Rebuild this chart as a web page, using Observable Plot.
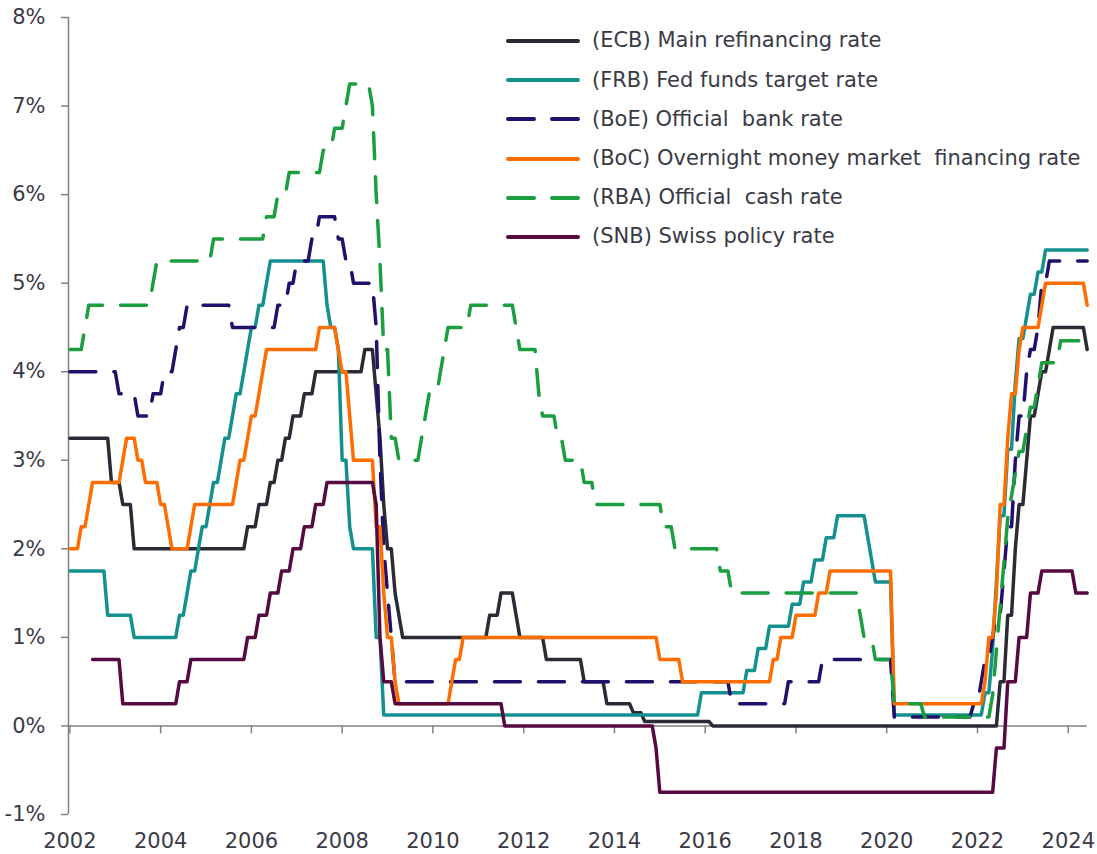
<!DOCTYPE html>
<html><head><meta charset="utf-8">
<script src="https://cdn.jsdelivr.net/npm/d3@7"></script>
<script src="https://cdn.jsdelivr.net/npm/@observablehq/plot@0.6"></script>
<style>
body{margin:0;background:#fff;}
#wrap{position:relative;width:1097px;height:854px;font-family:"DejaVu Sans",sans-serif;}
#legend{position:absolute;left:506px;top:21.4px;}
.row{display:flex;align-items:center;height:39.2px;}
.row svg{width:74px;height:8px;margin-right:12px;flex:none}
.row span{font-size:21px;color:#3a3a46;white-space:pre;line-height:1}
</style></head><body><div id="wrap"><div id="legend"></div></div>
<script>
// ---- series metadata ----
const seriesCodes = ["ECB","FRB","BoE","BoC","RBA","SNB"];
const seriesLabels = ["Main refinancing rate","Fed funds target rate","Official  bank rate","Overnight money market  financing rate","Official  cash rate","Swiss policy rate"];
const seriesColors = ["#2b2b36","#14918f","#22106d","#ff6d00","#1a9e3f","#560a42"];
const seriesDashed = [false,false,true,false,true,false];

// ---- data: month of change and new rate (%) ----
const ecbDates = ["2002-01","2002-12","2003-03","2003-06","2005-12","2006-03","2006-06","2006-08","2006-10","2006-12","2007-03","2007-06","2008-07","2008-10","2008-11","2008-12","2009-01","2009-03","2009-04","2009-05","2011-04","2011-07","2011-11","2011-12","2012-07","2013-05","2013-11","2014-06","2014-09","2016-03","2022-07","2022-09","2022-11","2022-12","2023-02","2023-03","2023-05","2023-06","2023-08","2023-09","2024-06"];
const ecbRates = [3.25,2.75,2.5,2.0,2.25,2.5,2.75,3.0,3.25,3.5,3.75,4.0,4.25,3.75,3.25,2.5,2.0,1.5,1.25,1.0,1.25,1.5,1.25,1.0,0.75,0.5,0.25,0.15,0.05,0.0,0.5,1.25,2.0,2.5,3.0,3.5,3.75,4.0,4.25,4.5,4.25];

const frbDates = ["2002-01","2002-11","2003-06","2004-06","2004-08","2004-09","2004-11","2004-12","2005-02","2005-03","2005-05","2005-06","2005-08","2005-09","2005-11","2005-12","2006-01","2006-03","2006-05","2006-06","2007-09","2007-10","2007-12","2008-01","2008-03","2008-04","2008-10","2008-12","2015-12","2016-12","2017-03","2017-06","2017-12","2018-03","2018-06","2018-09","2018-12","2019-08","2019-09","2019-10","2020-03","2022-03","2022-05","2022-06","2022-07","2022-09","2022-11","2022-12","2023-02","2023-03","2023-05","2023-07"];
const frbRates = [1.75,1.25,1.0,1.25,1.5,1.75,2.0,2.25,2.5,2.75,3.0,3.25,3.5,3.75,4.0,4.25,4.5,4.75,5.0,5.25,4.75,4.5,4.25,3.0,2.25,2.0,1.0,0.125,0.375,0.625,0.875,1.125,1.375,1.625,1.875,2.125,2.375,2.125,1.875,1.625,0.125,0.375,0.875,1.625,2.375,3.125,3.875,4.375,4.625,4.875,5.125,5.375];

const boeDates = ["2002-01","2003-02","2003-07","2003-11","2004-02","2004-05","2004-06","2004-08","2005-08","2006-08","2006-11","2007-01","2007-05","2007-07","2007-12","2008-02","2008-04","2008-10","2008-11","2008-12","2009-01","2009-02","2009-03","2016-08","2017-11","2018-08","2020-03","2021-12","2022-02","2022-03","2022-05","2022-06","2022-08","2022-09","2022-11","2022-12","2023-02","2023-03","2023-05","2023-06","2023-08"];
const boeRates = [4.0,3.75,3.5,3.75,4.0,4.25,4.5,4.75,4.5,4.75,5.0,5.25,5.5,5.75,5.5,5.25,5.0,4.5,3.0,2.0,1.5,1.0,0.5,0.25,0.5,0.75,0.1,0.25,0.5,0.75,1.0,1.25,1.75,2.25,3.0,3.5,4.0,4.25,4.5,5.0,5.25];

const bocDates = ["2002-01","2002-04","2002-06","2002-07","2003-03","2003-04","2003-07","2003-09","2004-01","2004-03","2004-04","2004-09","2004-10","2005-09","2005-10","2005-12","2006-01","2006-03","2006-04","2006-05","2007-07","2007-12","2008-01","2008-03","2008-04","2008-10","2008-12","2009-01","2009-03","2009-04","2010-06","2010-07","2010-09","2015-01","2015-07","2017-07","2017-09","2018-01","2018-07","2018-10","2020-03","2022-03","2022-04","2022-06","2022-07","2022-09","2022-10","2022-12","2023-01","2023-06","2023-07","2024-06"];
const bocRates = [2.0,2.25,2.5,2.75,3.0,3.25,3.0,2.75,2.5,2.25,2.0,2.25,2.5,2.75,3.0,3.25,3.5,3.75,4.0,4.25,4.5,4.25,4.0,3.5,3.0,2.25,1.5,1.0,0.5,0.25,0.5,0.75,1.0,0.75,0.5,0.75,1.0,1.25,1.5,1.75,0.25,0.5,1.0,1.5,2.5,3.25,3.75,4.25,4.5,4.75,5.0,4.75];

const rbaDates = ["2002-01","2002-05","2002-06","2003-11","2003-12","2005-03","2006-05","2006-08","2006-11","2007-08","2007-11","2008-02","2008-03","2008-09","2008-10","2008-11","2008-12","2009-02","2009-04","2009-10","2009-11","2009-12","2010-03","2010-04","2010-05","2010-11","2011-11","2011-12","2012-05","2012-06","2012-10","2012-12","2013-05","2013-08","2015-02","2015-05","2016-05","2016-08","2019-06","2019-07","2019-10","2020-03","2020-11","2022-05","2022-06","2022-07","2022-08","2022-09","2022-10","2022-11","2022-12","2023-02","2023-03","2023-05","2023-06","2023-11"];
const rbaRates = [4.25,4.5,4.75,5.0,5.25,5.5,5.75,6.0,6.25,6.5,6.75,7.0,7.25,7.0,6.0,5.25,4.25,3.25,3.0,3.25,3.5,3.75,4.0,4.25,4.5,4.75,4.5,4.25,3.75,3.5,3.25,3.0,2.75,2.5,2.25,2.0,1.75,1.5,1.25,1.0,0.75,0.25,0.1,0.35,0.85,1.35,1.85,2.35,2.6,2.85,3.1,3.35,3.6,3.85,4.1,4.35];

const snbDates = ["2002-07","2003-03","2004-06","2004-09","2005-12","2006-03","2006-06","2006-09","2006-12","2007-03","2007-06","2007-09","2008-10","2008-11","2008-12","2009-03","2011-08","2014-12","2015-01","2022-06","2022-09","2022-12","2023-03","2023-06","2024-03"];
const snbRates = [0.75,0.25,0.5,0.75,1.0,1.25,1.5,1.75,2.0,2.25,2.5,2.75,2.5,1.0,0.5,0.25,0.0,-0.25,-0.75,-0.25,0.5,1.0,1.5,1.75,1.5];

const lastMonth = "2024-06";
const xTicks = [2002,2004,2006,2008,2010,2012,2014,2016,2018,2020,2022,2024];
const yTicks = [-1,0,1,2,3,4,5,6,7,8];
const xDomain = [2001.97, 2024.49];

// ---- build monthly step table ----
function toYear(s){const [y,m]=s.split("-").map(Number);return y+(m-1)/12;}
function stepTable(code,dates,rates){
  const pts=[];
  dates.forEach((d,i)=>{
    const t=toYear(d);
    if(i>0) pts.push({code,t:t-1/12,v:rates[i-1]});
    pts.push({code,t,v:rates[i]});
  });
  pts.push({code,t:toYear(lastMonth),v:rates[rates.length-1]});
  return pts;
}
const allDates=[ecbDates,frbDates,boeDates,bocDates,rbaDates,snbDates];
const allRates=[ecbRates,frbRates,boeRates,bocRates,rbaRates,snbRates];
const table = seriesCodes.flatMap((c,i)=>stepTable(c,allDates[i],allRates[i]));

const axisGray="#808080", textColor="#3a3a46";
const lineMarks = seriesCodes.map((c,i)=>Plot.line(table.filter(d=>d.code===c),{
  x:"t", y:"v", stroke:seriesColors[i], strokeWidth:3.5,
  strokeLinecap:"round", strokeLinejoin:"round",
  strokeDasharray: seriesDashed[i] ? "26,18" : null
}));

const chart = Plot.plot({
  width:1097, height:854,
  marginLeft:68, marginRight:7, marginTop:17, marginBottom:40,
  style:{fontFamily:"DejaVu Sans, sans-serif", background:"white", color:textColor},
  x:{domain:xDomain, axis:null},
  y:{domain:[yTicks[0], yTicks[yTicks.length-1]], axis:null},
  marks:[
    Plot.ruleX([xDomain[0]], {stroke:axisGray, strokeWidth:1.5}),
    Plot.ruleY([0], {x1:xDomain[0], x2:toYear(lastMonth), stroke:axisGray, strokeWidth:1.5}),
    Plot.ruleX(xTicks, {x:d=>d, y1:0, y2:-0.09, stroke:axisGray, strokeWidth:1.5}),
    Plot.axisY({ticks:yTicks, tickSize:7, tickPadding:16, tickFormat:d=>`${d}%`, stroke:axisGray, strokeWidth:1.5, fill:textColor, fontSize:21, label:null}),
    Plot.axisX({ticks:xTicks, tickSize:0, tickPadding:19, tickFormat:d=>String(d), fill:textColor, fontSize:21, label:null}),
    ...lineMarks
  ]
});
const wrap=document.getElementById("wrap");
wrap.insertBefore(chart, wrap.firstChild);

// ---- legend ----
const legend=document.getElementById("legend");
seriesCodes.forEach((c,i)=>{
  const row=document.createElement("div"); row.className="row";
  row.innerHTML=`<svg viewBox="0 0 74 8"><line x1="2" y1="4" x2="72" y2="4" stroke="${seriesColors[i]}" stroke-width="4" stroke-linecap="round" ${seriesDashed[i]?'stroke-dasharray="26,18"':''}/></svg><span>(${c}) ${seriesLabels[i]}</span>`;
  legend.appendChild(row);
});
</script></body></html>
